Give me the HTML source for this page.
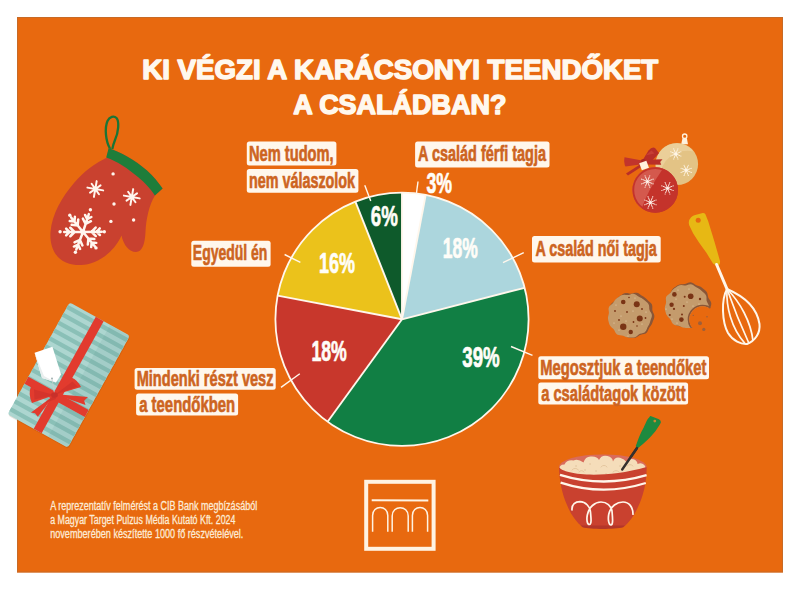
<!DOCTYPE html>
<html lang="hu"><head><meta charset="utf-8"><title>Ki végzi a karácsonyi teendőket a családban?</title>
<style>
html,body{margin:0;padding:0;background:#fff;}
body{width:800px;height:590px;overflow:hidden;}
svg{display:block;}
.tt{font-family:"Liberation Sans",Arial,sans-serif;font-weight:700;fill:#FFF8EE;stroke:#FFF8EE;}
.lb{font-family:"Liberation Sans",Arial,sans-serif;font-weight:700;fill:#CD6421;stroke:#CD6421;}
.pc{font-family:"Liberation Sans",Arial,sans-serif;font-weight:700;fill:#FFFDF8;stroke:#FFFDF8;}
.ft{font-family:"Liberation Sans",Arial,sans-serif;fill:#FDEBD6;stroke:#FDEBD6;}
</style></head>
<body>
<svg width="800" height="590" viewBox="0 0 800 590">
<rect x="0" y="0" width="800" height="590" fill="#FFFFFF"/>
<rect x="17" y="17" width="766" height="555.5" fill="#E8690F"/>
<rect x="17.5" y="17.5" width="765" height="554.5" fill="none" stroke="#BF6A2C" stroke-width="1" opacity="0.8"/>
<text x="142.25" y="79.25" font-size="27.6" textLength="516.0" lengthAdjust="spacingAndGlyphs" class="tt" stroke-width="1.5" stroke-linejoin="round">KI VÉGZI A KARÁCSONYI TEENDŐKET</text>
<text x="293.2" y="113.5" font-size="27.6" textLength="213.2" lengthAdjust="spacingAndGlyphs" class="tt" stroke-width="1.5" stroke-linejoin="round">A CSALÁDBAN?</text>
<g id="mitten">
<path d="M110.2,149 C105.5,141 104.5,128 107.5,121 C109.5,116.5 114,115.5 116.5,118 C119.5,121.5 118.5,132 115,140 C113.8,143 112.8,146 112.3,149" fill="none" stroke="#1B7536" stroke-width="2.3"/>
<path d="M107,157.5 C96,163 84,171 74,183 C62,197 52,214 50.5,232 C49.5,246 55,258 66,262.5 C71,264.5 76,265.2 81,265 C96,264.5 113,254 121.5,235.5 C123.5,245 129,252 136,252 C142.5,252 145,243 145.5,232 C146,220 149,205 155,195.5 L162.6,188.6 C158.5,182.5 153,176 147,170.5 C135,160 120,151.5 108.6,148.2 L107,157.5 Z" fill="#C9412F"/>
<path d="M108.6,148.2 C120,151.5 135,160 147,170.5 C153,176 158.5,182.5 162.6,188.6 L154.9,195.6 C150,188 145,183 138,177 C128,168.5 117,161 106.2,157.4 Z" fill="#1E7D3A"/>
<path d="M83.00,232.00L101.80,231.67M91.46,231.85l4.18,-4.33M91.46,231.85l4.33,4.18M96.53,231.76l3.26,-3.38M96.53,231.76l3.38,3.26M83.00,232.00L94.98,246.49M88.39,238.52l5.99,0.57M88.39,238.52l-0.57,5.99M91.63,242.43l4.68,0.44M91.63,242.43l-0.44,4.68M83.00,232.00L76.29,249.56M79.98,239.90l2.46,5.49M79.98,239.90l-5.49,2.46M78.17,244.65l1.92,4.29M78.17,244.65l-4.29,1.92M83.00,232.00L64.20,232.00M74.54,232.00l-4.25,4.25M74.54,232.00l-4.25,-4.25M69.46,232.00l-3.32,3.32M69.46,232.00l-3.32,-3.32M83.00,232.00L71.12,217.43M77.65,225.44l-5.99,-0.61M77.65,225.44l0.61,-5.99M74.44,221.51l-4.68,-0.47M74.44,221.51l0.47,-4.68M83.00,232.00L88.81,214.12M85.61,223.95l-2.73,-5.36M85.61,223.95l5.36,-2.73M87.18,219.13l-2.13,-4.19M87.18,219.13l4.19,-2.13" stroke="#FFF6EE" stroke-width="2.5" stroke-linecap="round" fill="none"/>
<circle cx="83" cy="232" r="2.6" fill="#FFF6EE"/>
<path d="M95.30,189.00L103.18,190.39M95.30,189.00L98.97,194.24M95.30,189.00L93.91,196.88M95.30,189.00L90.06,192.67M95.30,189.00L87.42,187.61M95.30,189.00L91.63,183.76M95.30,189.00L96.69,181.12M95.30,189.00L100.54,185.33" stroke="#FFF6EE" stroke-width="2.0" stroke-linecap="round" fill="none"/><circle cx="95.3" cy="189" r="2.20" fill="#FFF6EE"/>
<path d="M131.80,197.00L139.68,198.39M131.80,197.00L135.47,202.24M131.80,197.00L130.41,204.88M131.80,197.00L126.56,200.67M131.80,197.00L123.92,195.61M131.80,197.00L128.13,191.76M131.80,197.00L133.19,189.12M131.80,197.00L137.04,193.33" stroke="#FFF6EE" stroke-width="2.0" stroke-linecap="round" fill="none"/><circle cx="131.8" cy="197" r="2.20" fill="#FFF6EE"/>
<circle cx="113.1" cy="173.9" r="1.7" fill="#FFF6EE"/>
<circle cx="114" cy="204" r="1.7" fill="#FFF6EE"/>
<circle cx="110.9" cy="221.4" r="1.7" fill="#FFF6EE"/>
<circle cx="133.6" cy="220" r="1.7" fill="#FFF6EE"/>
<circle cx="90.4" cy="209.7" r="1.7" fill="#FFF6EE"/>
<circle cx="69.8" cy="215.3" r="1.7" fill="#FFF6EE"/>
<circle cx="60.1" cy="231.7" r="1.7" fill="#FFF6EE"/>
<circle cx="104.3" cy="231.7" r="1.7" fill="#FFF6EE"/>
<circle cx="75.4" cy="252.2" r="1.7" fill="#FFF6EE"/>
<circle cx="96" cy="247.9" r="1.7" fill="#FFF6EE"/>
</g>
<g id="gift">
<g transform="translate(68.7,375) rotate(29)">
<defs><clipPath id="gc"><rect x="-34.5" y="-64" width="69" height="128" rx="3"/></clipPath></defs>
<rect x="-33.5" y="-63" width="69" height="128" rx="3" fill="#7a3a0a" opacity="0.15"/>
<rect x="-34.5" y="-64" width="69" height="128" rx="3" fill="#ADD6D0"/>
<g clip-path="url(#gc)"><rect x="-35" y="-61.0" width="70" height="4.3" fill="#8AC0B7"/><rect x="-35" y="-52.0" width="70" height="4.3" fill="#8AC0B7"/><rect x="-35" y="-43.0" width="70" height="4.3" fill="#8AC0B7"/><rect x="-35" y="-34.0" width="70" height="4.3" fill="#8AC0B7"/><rect x="-35" y="-25.0" width="70" height="4.3" fill="#8AC0B7"/><rect x="-35" y="-16.0" width="70" height="4.3" fill="#8AC0B7"/><rect x="-35" y="-7.0" width="70" height="4.3" fill="#8AC0B7"/><rect x="-35" y="2.0" width="70" height="4.3" fill="#8AC0B7"/><rect x="-35" y="11.0" width="70" height="4.3" fill="#8AC0B7"/><rect x="-35" y="20.0" width="70" height="4.3" fill="#8AC0B7"/><rect x="-35" y="29.0" width="70" height="4.3" fill="#8AC0B7"/><rect x="-35" y="38.0" width="70" height="4.3" fill="#8AC0B7"/><rect x="-35" y="47.0" width="70" height="4.3" fill="#8AC0B7"/><rect x="-35" y="56.0" width="70" height="4.3" fill="#8AC0B7"/><rect x="12" y="-63.5" width="22" height="127" fill="#2a6a60" opacity="0.07"/></g>
<rect x="-4.5" y="-64" width="9" height="128" fill="#E23B2E"/>
<rect x="-34.5" y="21" width="69" height="8" fill="#E23B2E"/>
</g>
<path d="M34.6,352.8 L52.4,346.7 L61.1,374.6 L56,382.5 L42,378 Z" fill="#FFFFFF"/><path d="M34.6,352.8 L42,378 L56,382.5 L44,376 Z" fill="#E9EEEE"/>
<circle cx="52" cy="378.5" r="0.9" fill="#9aa"/>
<path d="M52,379 C53,385 54,390 54.5,394" stroke="#C9D0CE" stroke-width="0.7" fill="none"/>
<path d="M54.5,395 L31,386.5 Q27.8,394 32,403 Z" fill="#E23B2E"/>
<path d="M54.5,395 L34,389.5 L34.5,399.5 Z" fill="#C9302A" opacity="0.55"/>
<path d="M54.5,395 L71.5,377.5 Q77.5,380 81,387 Z" fill="#E23B2E"/>
<path d="M54.5,395 L72.5,381.5 L77.5,386.5 Z" fill="#C9302A" opacity="0.55"/>
<path d="M54.5,394 L88,397 L84.2,400.8 L85.5,405 Z" fill="#E23B2E"/>
<path d="M54.5,395 L31,412.5 L35,413.2 L37.8,416.8 Z" fill="#E23B2E"/>
<path d="M54.5,395 L45,403 L56,399 Z" fill="#C9302A" opacity="0.6"/>
<ellipse cx="54.5" cy="395" rx="3.4" ry="2.8" fill="#C9302A"/>
</g>
<g id="ornaments">
<circle cx="684.7" cy="136.2" r="2.2" fill="none" stroke="#FFF1DC" stroke-width="1.3"/>
<path d="M682.5,138.3 L686.9,138.3 L688,144.2 L681.2,144.2 Z" fill="#FFF1DC"/>
<circle cx="677" cy="164" r="21.1" fill="#E3C385"/>
<path d="M660.5,151 A21.1,21.1 0 0 1 693.5,151.5 A27,27 0 0 0 660,178 A21.1,21.1 0 0 1 660.5,151 Z" fill="#EDD3A0" opacity="0.75"/>
<path d="M676.91,154.36L679.87,155.58M676.26,155.01L677.48,157.97M675.34,155.01L674.12,157.97M674.69,154.36L671.73,155.58M674.69,153.44L671.73,152.22M675.34,152.79L674.12,149.83M676.26,152.79L677.48,149.83M676.91,153.44L679.87,152.22" stroke="#FFF6E8" stroke-width="0.9" stroke-linecap="round" fill="none"/><circle cx="680.88" cy="156.00" r="0.55" fill="#FFF6E8"/><circle cx="677.90" cy="158.98" r="0.55" fill="#FFF6E8"/><circle cx="673.70" cy="158.98" r="0.55" fill="#FFF6E8"/><circle cx="670.72" cy="156.00" r="0.55" fill="#FFF6E8"/><circle cx="670.72" cy="151.80" r="0.55" fill="#FFF6E8"/><circle cx="673.70" cy="148.82" r="0.55" fill="#FFF6E8"/><circle cx="677.90" cy="148.82" r="0.55" fill="#FFF6E8"/><circle cx="680.88" cy="151.80" r="0.55" fill="#FFF6E8"/><circle cx="675.8" cy="153.9" r="1.5" fill="#FFF6E8"/>
<path d="M687.31,170.76L690.27,171.98M686.66,171.41L687.88,174.37M685.74,171.41L684.52,174.37M685.09,170.76L682.13,171.98M685.09,169.84L682.13,168.62M685.74,169.19L684.52,166.23M686.66,169.19L687.88,166.23M687.31,169.84L690.27,168.62" stroke="#FFF6E8" stroke-width="0.9" stroke-linecap="round" fill="none"/><circle cx="691.28" cy="172.40" r="0.55" fill="#FFF6E8"/><circle cx="688.30" cy="175.38" r="0.55" fill="#FFF6E8"/><circle cx="684.10" cy="175.38" r="0.55" fill="#FFF6E8"/><circle cx="681.12" cy="172.40" r="0.55" fill="#FFF6E8"/><circle cx="681.12" cy="168.20" r="0.55" fill="#FFF6E8"/><circle cx="684.10" cy="165.22" r="0.55" fill="#FFF6E8"/><circle cx="688.30" cy="165.22" r="0.55" fill="#FFF6E8"/><circle cx="691.28" cy="168.20" r="0.55" fill="#FFF6E8"/><circle cx="686.2" cy="170.3" r="1.5" fill="#FFF6E8"/>
<circle cx="655.25" cy="190" r="22.75" fill="#C4332B"/>
<path d="M663,168.6 Q647.2,191.5 641.8,208.3 A22.75,22.75 0 0 1 663,168.6 Z" fill="#D4594D"/><circle cx="655.25" cy="190" r="21.9" fill="none" stroke="#C4332B" stroke-width="1.7"/>
<path d="M648.51,181.96L651.98,183.40M647.86,182.61L649.30,186.08M646.94,182.61L645.50,186.08M646.29,181.96L642.82,183.40M646.29,181.04L642.82,179.60M646.94,180.39L645.50,176.92M647.86,180.39L649.30,176.92M648.51,181.04L651.98,179.60" stroke="#FFF3EA" stroke-width="0.9" stroke-linecap="round" fill="none"/><circle cx="653.13" cy="183.87" r="0.55" fill="#FFF3EA"/><circle cx="649.77" cy="187.23" r="0.55" fill="#FFF3EA"/><circle cx="645.03" cy="187.23" r="0.55" fill="#FFF3EA"/><circle cx="641.67" cy="183.87" r="0.55" fill="#FFF3EA"/><circle cx="641.67" cy="179.13" r="0.55" fill="#FFF3EA"/><circle cx="645.03" cy="175.77" r="0.55" fill="#FFF3EA"/><circle cx="649.77" cy="175.77" r="0.55" fill="#FFF3EA"/><circle cx="653.13" cy="179.13" r="0.55" fill="#FFF3EA"/><circle cx="647.4" cy="181.5" r="1.5" fill="#FFF3EA"/>
<path d="M668.61,188.66L672.08,190.10M667.96,189.31L669.40,192.78M667.04,189.31L665.60,192.78M666.39,188.66L662.92,190.10M666.39,187.74L662.92,186.30M667.04,187.09L665.60,183.62M667.96,187.09L669.40,183.62M668.61,187.74L672.08,186.30" stroke="#FFF3EA" stroke-width="0.9" stroke-linecap="round" fill="none"/><circle cx="673.23" cy="190.57" r="0.55" fill="#FFF3EA"/><circle cx="669.87" cy="193.93" r="0.55" fill="#FFF3EA"/><circle cx="665.13" cy="193.93" r="0.55" fill="#FFF3EA"/><circle cx="661.77" cy="190.57" r="0.55" fill="#FFF3EA"/><circle cx="661.77" cy="185.83" r="0.55" fill="#FFF3EA"/><circle cx="665.13" cy="182.47" r="0.55" fill="#FFF3EA"/><circle cx="669.87" cy="182.47" r="0.55" fill="#FFF3EA"/><circle cx="673.23" cy="185.83" r="0.55" fill="#FFF3EA"/><circle cx="667.5" cy="188.2" r="1.5" fill="#FFF3EA"/>
<path d="M651.51,202.86L654.98,204.30M650.86,203.51L652.30,206.98M649.94,203.51L648.50,206.98M649.29,202.86L645.82,204.30M649.29,201.94L645.82,200.50M649.94,201.29L648.50,197.82M650.86,201.29L652.30,197.82M651.51,201.94L654.98,200.50" stroke="#FFF3EA" stroke-width="0.9" stroke-linecap="round" fill="none"/><circle cx="656.13" cy="204.77" r="0.55" fill="#FFF3EA"/><circle cx="652.77" cy="208.13" r="0.55" fill="#FFF3EA"/><circle cx="648.03" cy="208.13" r="0.55" fill="#FFF3EA"/><circle cx="644.67" cy="204.77" r="0.55" fill="#FFF3EA"/><circle cx="644.67" cy="200.03" r="0.55" fill="#FFF3EA"/><circle cx="648.03" cy="196.67" r="0.55" fill="#FFF3EA"/><circle cx="652.77" cy="196.67" r="0.55" fill="#FFF3EA"/><circle cx="656.13" cy="200.03" r="0.55" fill="#FFF3EA"/><circle cx="650.4" cy="202.4" r="1.5" fill="#FFF3EA"/>
<path d="M641.5,162 L648.5,150.5 Q652,146.5 655,148 L659,153 Q656,157 651,161.5 Z" fill="#B92E28"/>
<path d="M645.5,155.5 L651.5,150.5 L654.5,153.5 Z" fill="#D0493E" opacity="0.6"/>
<path d="M645,159.8 L662.5,159.3 L660.2,162 L661.2,164.8 L645,164.4 Z" fill="#B92E28"/>
<path d="M643.5,160.8 L624.5,157.3 Q623.5,163 625.5,166.5 L643.5,164 Z" fill="#C1342C"/>
<path d="M641.5,163.5 L626,173.4 L628,175.6 L643.5,165.5 Z" fill="#B92E28"/>
<circle cx="643.2" cy="161.2" r="2.3" fill="#A82823"/>
<rect x="640.3" y="161.7" width="7.6" height="7.6" fill="#FFF1DC" transform="rotate(-20 644.1 165.5)"/>
</g>
<g id="whisk">
<path d="M691.1,217.2 Q693,215.5 695.2,215.1 L702.8,213.1 Q704.5,213 705.4,214.3 L708.2,221.2 L714.4,241.6 L720,260.9 Q720.6,264.8 717,266.3 L713,263.5 L706.4,252.8 L699,242.6 L693.2,233.4 L689.2,225.3 Q687.8,220.5 691.1,217.2 Z" fill="#E7B814"/>
<circle cx="698.2" cy="220.2" r="2.5" fill="#E8690F"/>
<path d="M716.6,264.5 L727.2,289.5" stroke="#FFF6EA" stroke-width="3" stroke-linecap="round"/>
<path d="M727,289 C721,300 722,322 728,333 C733,341 741,344.5 747,344 C755,341 760.5,333 759.5,324 C757.5,311 748,298 727,289 Z" fill="none" stroke="#FFF6EA" stroke-width="2"/>
<path d="M727,289 C726,306 731,328 745,343.5" fill="none" stroke="#FFF6EA" stroke-width="1.7"/>
<path d="M727,289 C733,306 741,326 749,343.5" fill="none" stroke="#FFF6EA" stroke-width="1.7"/>
<path d="M727,289 C740,302 751,322 753,341" fill="none" stroke="#FFF6EA" stroke-width="1.7"/>
</g>
<g id="cookies">
<path d="M654.29,315.20 L654.36,316.81 L654.00,318.38 L653.43,319.88 L652.88,321.36 L652.36,322.83 L651.74,324.26 L650.93,325.59 L650.02,326.83 L649.16,328.10 L648.45,329.51 L647.78,331.02 L646.91,332.42 L645.67,333.46 L644.10,334.03 L642.43,334.31 L640.88,334.64 L639.51,335.28 L638.22,336.18 L636.85,337.07 L635.36,337.66 L633.78,337.87 L632.19,337.84 L630.61,337.75 L629.04,337.63 L627.49,337.35 L626.01,336.81 L624.62,336.07 L623.26,335.36 L621.80,334.88 L620.20,334.60 L618.54,334.26 L617.07,333.54 L615.97,332.34 L615.22,330.82 L614.61,329.29 L613.85,327.95 L612.85,326.79 L611.77,325.64 L610.83,324.36 L610.15,322.93 L609.68,321.43 L609.27,319.90 L608.89,318.36 L608.69,316.79 L608.83,315.20 L609.32,313.66 L609.89,312.18 L610.25,310.70 L610.26,309.14 L610.14,307.46 L610.26,305.79 L610.89,304.30 L612.02,303.09 L613.36,302.09 L614.60,301.10 L615.65,299.99 L616.63,298.79 L617.69,297.65 L618.90,296.66 L620.21,295.81 L621.53,294.97 L622.88,294.10 L624.30,293.36 L625.86,292.98 L627.50,293.06 L629.11,293.40 L630.65,293.66 L632.16,293.55 L633.72,293.12 L635.36,292.73 L637.00,292.73 L638.52,293.29 L639.88,294.21 L641.15,295.20 L642.44,296.08 L643.77,296.87 L645.05,297.72 L646.23,298.73 L647.32,299.82 L648.44,300.90 L649.67,301.93 L650.88,303.03 L651.83,304.34 L652.30,305.90 L652.34,307.58 L652.27,309.21 L652.46,310.72 L653.02,312.16 L653.76,313.64 Z" fill="#8A5637"/>
<path d="M651.91,315.80 L651.61,317.34 L651.07,318.82 L650.55,320.25 L650.13,321.69 L649.70,323.12 L649.11,324.49 L648.38,325.79 L647.65,327.08 L647.02,328.45 L646.43,329.92 L645.66,331.31 L644.53,332.39 L643.07,333.04 L641.47,333.40 L639.99,333.80 L638.73,334.51 L637.57,335.52 L636.34,336.55 L634.95,337.27 L633.44,337.57 L631.89,337.56 L630.36,337.46 L628.85,337.39 L627.35,337.25 L625.88,336.91 L624.47,336.37 L623.10,335.82 L621.66,335.44 L620.11,335.25 L618.51,335.02 L617.04,334.42 L615.91,333.33 L615.11,331.89 L614.45,330.43 L613.65,329.18 L612.59,328.15 L611.40,327.17 L610.32,326.05 L609.54,324.73 L609.03,323.29 L608.63,321.81 L608.26,320.34 L607.98,318.84 L607.98,317.31 L608.27,315.80 L608.67,314.34 L608.90,312.89 L608.82,311.38 L608.59,309.77 L608.58,308.15 L609.09,306.67 L610.13,305.45 L611.41,304.43 L612.59,303.44 L613.53,302.31 L614.32,301.05 L615.19,299.79 L616.24,298.70 L617.45,297.79 L618.72,296.95 L620.00,296.11 L621.34,295.36 L622.81,294.89 L624.37,294.81 L625.93,295.00 L627.43,295.12 L628.87,294.91 L630.35,294.38 L631.91,293.85 L633.49,293.72 L634.99,294.17 L636.34,295.04 L637.60,296.00 L638.87,296.80 L640.20,297.43 L641.55,298.08 L642.82,298.88 L643.97,299.84 L645.11,300.82 L646.30,301.79 L647.48,302.81 L648.46,304.01 L649.03,305.47 L649.20,307.07 L649.25,308.65 L649.52,310.09 L650.18,311.42 L651.05,312.79 L651.72,314.25 Z" fill="#C49B6C"/>
<circle cx="623.25" cy="302" r="2.3" fill="#7A3415"/>
<circle cx="636.75" cy="304.25" r="3" fill="#7A3415"/>
<circle cx="639.75" cy="318.5" r="3" fill="#7A3415"/>
<circle cx="623.25" cy="326.75" r="3.2" fill="#7A3415"/>
<circle cx="630.75" cy="332" r="2.2" fill="#7A3415"/>
<circle cx="615" cy="311" r="0.9" fill="#7A3415"/>
<circle cx="627" cy="312" r="0.9" fill="#7A3415"/>
<circle cx="642" cy="309" r="0.9" fill="#7A3415"/>
<circle cx="633.5" cy="322" r="0.9" fill="#7A3415"/>
<circle cx="619" cy="320" r="0.9" fill="#7A3415"/>
<circle cx="645.5" cy="318" r="0.9" fill="#7A3415"/>
<circle cx="629" cy="297.5" r="0.8" fill="#7A3415"/>
<circle cx="637" cy="326" r="0.8" fill="#7A3415"/>
<circle cx="616" cy="305" r="0.6" fill="#EAD6B2"/>
<circle cx="621" cy="316" r="0.6" fill="#EAD6B2"/>
<circle cx="633" cy="311" r="0.6" fill="#EAD6B2"/>
<circle cx="642" cy="324" r="0.6" fill="#EAD6B2"/>
<circle cx="626" cy="321" r="0.6" fill="#EAD6B2"/>
<circle cx="614" cy="323" r="0.6" fill="#EAD6B2"/>
<circle cx="635" cy="298" r="0.6" fill="#EAD6B2"/>
<circle cx="646" cy="312" r="0.6" fill="#EAD6B2"/>
<circle cx="628" cy="336" r="0.6" fill="#EAD6B2"/>
<circle cx="619" cy="330" r="0.6" fill="#EAD6B2"/>
<defs><mask id="bite"><rect x="600" y="270" width="130" height="80" fill="#fff"/><circle cx="702.5" cy="319.5" r="13.2" fill="#000"/></mask></defs>
<g mask="url(#bite)"><path d="M711.05,305.40 L710.52,306.96 L710.04,308.47 L709.73,309.98 L709.47,311.50 L709.07,313.00 L708.49,314.44 L707.84,315.84 L707.23,317.29 L706.64,318.80 L705.87,320.22 L704.74,321.38 L703.29,322.15 L701.70,322.68 L700.25,323.26 L699.02,324.14 L697.91,325.32 L696.72,326.50 L695.33,327.34 L693.76,327.70 L692.13,327.71 L690.54,327.63 L688.98,327.62 L687.42,327.61 L685.88,327.47 L684.37,327.13 L682.88,326.74 L681.36,326.45 L679.75,326.31 L678.11,326.08 L676.60,325.50 L675.37,324.42 L674.45,323.00 L673.65,321.56 L672.69,320.37 L671.47,319.44 L670.11,318.54 L668.88,317.48 L667.98,316.15 L667.41,314.66 L666.99,313.12 L666.59,311.60 L666.24,310.07 L666.07,308.51 L666.15,306.94 L666.35,305.40 L666.42,303.88 L666.24,302.31 L665.94,300.67 L665.90,299.00 L666.39,297.46 L667.41,296.14 L668.67,295.02 L669.80,293.90 L670.64,292.64 L671.30,291.22 L672.04,289.80 L673.03,288.55 L674.24,287.53 L675.55,286.64 L676.88,285.79 L678.25,285.00 L679.72,284.42 L681.30,284.17 L682.90,284.15 L684.44,284.08 L685.92,283.71 L687.42,283.06 L689.00,282.44 L690.63,282.26 L692.21,282.68 L693.65,283.54 L695.00,284.47 L696.37,285.18 L697.82,285.68 L699.30,286.17 L700.73,286.83 L702.03,287.70 L703.25,288.68 L704.48,289.68 L705.69,290.72 L706.73,291.94 L707.42,293.39 L707.76,295.00 L708.01,296.58 L708.47,298.02 L709.29,299.35 L710.29,300.70 L711.07,302.19 L711.32,303.78 Z" fill="#8A5637"/><path d="M708.85,306.20 L708.73,307.75 L708.26,309.24 L707.70,310.68 L707.21,312.11 L706.74,313.53 L706.15,314.90 L705.38,316.19 L704.56,317.43 L703.84,318.73 L703.24,320.16 L702.57,321.62 L701.60,322.86 L700.25,323.67 L698.66,324.08 L697.09,324.37 L695.70,324.86 L694.47,325.68 L693.25,326.68 L691.91,327.51 L690.44,327.96 L688.90,328.05 L687.36,327.97 L685.84,327.88 L684.34,327.75 L682.86,327.44 L681.44,326.88 L680.09,326.22 L678.73,325.69 L677.24,325.39 L675.64,325.19 L674.08,324.76 L672.79,323.87 L671.89,322.54 L671.24,321.03 L670.58,319.65 L669.69,318.49 L668.59,317.45 L667.50,316.36 L666.63,315.09 L666.05,313.68 L665.62,312.22 L665.23,310.74 L664.91,309.25 L664.81,307.72 L665.05,306.20 L665.53,304.73 L665.95,303.30 L666.07,301.84 L665.91,300.27 L665.79,298.63 L666.08,297.06 L666.92,295.73 L668.14,294.67 L669.42,293.72 L670.50,292.69 L671.40,291.52 L672.29,290.30 L673.31,289.19 L674.49,288.25 L675.76,287.42 L677.03,286.58 L678.35,285.77 L679.77,285.17 L681.31,284.96 L682.89,285.14 L684.42,285.42 L685.88,285.45 L687.34,285.10 L688.87,284.57 L690.47,284.27 L692.02,284.48 L693.42,285.21 L694.69,286.18 L695.92,287.08 L697.21,287.83 L698.52,288.52 L699.78,289.33 L700.92,290.29 L702.02,291.31 L703.17,292.30 L704.38,293.29 L705.48,294.41 L706.22,295.77 L706.50,297.34 L706.49,298.96 L706.55,300.48 L706.97,301.87 L707.72,303.23 L708.47,304.67 Z" fill="#C49B6C"/>
<clipPath id="ck2"><path d="M711.05,305.40 L710.52,306.96 L710.04,308.47 L709.73,309.98 L709.47,311.50 L709.07,313.00 L708.49,314.44 L707.84,315.84 L707.23,317.29 L706.64,318.80 L705.87,320.22 L704.74,321.38 L703.29,322.15 L701.70,322.68 L700.25,323.26 L699.02,324.14 L697.91,325.32 L696.72,326.50 L695.33,327.34 L693.76,327.70 L692.13,327.71 L690.54,327.63 L688.98,327.62 L687.42,327.61 L685.88,327.47 L684.37,327.13 L682.88,326.74 L681.36,326.45 L679.75,326.31 L678.11,326.08 L676.60,325.50 L675.37,324.42 L674.45,323.00 L673.65,321.56 L672.69,320.37 L671.47,319.44 L670.11,318.54 L668.88,317.48 L667.98,316.15 L667.41,314.66 L666.99,313.12 L666.59,311.60 L666.24,310.07 L666.07,308.51 L666.15,306.94 L666.35,305.40 L666.42,303.88 L666.24,302.31 L665.94,300.67 L665.90,299.00 L666.39,297.46 L667.41,296.14 L668.67,295.02 L669.80,293.90 L670.64,292.64 L671.30,291.22 L672.04,289.80 L673.03,288.55 L674.24,287.53 L675.55,286.64 L676.88,285.79 L678.25,285.00 L679.72,284.42 L681.30,284.17 L682.90,284.15 L684.44,284.08 L685.92,283.71 L687.42,283.06 L689.00,282.44 L690.63,282.26 L692.21,282.68 L693.65,283.54 L695.00,284.47 L696.37,285.18 L697.82,285.68 L699.30,286.17 L700.73,286.83 L702.03,287.70 L703.25,288.68 L704.48,289.68 L705.69,290.72 L706.73,291.94 L707.42,293.39 L707.76,295.00 L708.01,296.58 L708.47,298.02 L709.29,299.35 L710.29,300.70 L711.07,302.19 L711.32,303.78 Z"/></clipPath><circle cx="702.5" cy="319.5" r="14" fill="none" stroke="#8A5637" stroke-width="1.6" clip-path="url(#ck2)"/>
<circle cx="674.4" cy="294.4" r="2.3" fill="#7A3415"/>
<circle cx="690.7" cy="296.3" r="2.8" fill="#7A3415"/>
<circle cx="671.6" cy="304.7" r="2.2" fill="#7A3415"/>
<circle cx="681.4" cy="319.6" r="2.3" fill="#7A3415"/>
<circle cx="684.7" cy="296.8" r="1" fill="#7A3415"/>
<circle cx="700" cy="299" r="1.2" fill="#7A3415"/>
<circle cx="674" cy="308.9" r="1.1" fill="#7A3415"/>
<circle cx="669.8" cy="315" r="1.1" fill="#7A3415"/>
<circle cx="683.8" cy="306.1" r="1" fill="#7A3415"/>
<circle cx="682" cy="314.5" r="1" fill="#7A3415"/>
<circle cx="678" cy="290" r="0.6" fill="#EAD6B2"/>
<circle cx="687" cy="302" r="0.6" fill="#EAD6B2"/>
<circle cx="693" cy="306" r="0.6" fill="#EAD6B2"/>
<circle cx="676" cy="299" r="0.6" fill="#EAD6B2"/>
<circle cx="666" cy="309" r="0.6" fill="#EAD6B2"/>
<circle cx="677" cy="323" r="0.6" fill="#EAD6B2"/>
<circle cx="689" cy="289" r="0.6" fill="#EAD6B2"/>
<circle cx="699" cy="304" r="0.6" fill="#EAD6B2"/>
<circle cx="672" cy="319" r="0.6" fill="#EAD6B2"/>
</g>
<circle cx="700" cy="323.3" r="2.0" fill="#9E5F3A"/>
<circle cx="703.8" cy="329.4" r="1.6" fill="#9E5F3A"/>
<circle cx="707" cy="316.8" r="0.8" fill="#9E5F3A"/>
<circle cx="693.3" cy="315.4" r="0.7" fill="#9E5F3A"/>
</g>
<g id="bowl">
<path d="M622.2,469.5 L637,448" stroke="#35302E" stroke-width="2.3" stroke-linecap="round"/>
<path d="M649.5,416.9 Q650,416 650.6,416.1 L659,419.2 Q661.2,420.5 660.9,422.6 C659,426 657.5,428.5 655.2,431.4 C652.5,434.5 650,437.5 647.6,439.8 C644.5,442.8 641.5,445.5 638.4,447.8 L636.9,448.2 L635.7,445.9 C637,443 638,439.5 639.2,436.7 C640.5,433.5 642,430.5 643.7,427.6 C645,424.5 646.3,421.5 647.6,419.2 Z" fill="#1E8A3F"/>
<circle cx="654.8" cy="421.1" r="1.4" fill="#C98A35"/>
<ellipse cx="602.8" cy="467" rx="43.8" ry="12.6" fill="#D96B5B"/>
<path d="M559.5,470 Q558.5,464.5 564.5,464.5 Q567,459.5 573.5,460.5 Q578,458.5 583.5,462.5 Q585.5,455.5 592,456.5 Q597.5,456.5 599,460 Q601.5,454.5 607.5,456 Q612.5,457 613,461.5 Q615,456.5 620,457.8 Q624.5,459 626.5,462 Q629,458 633.5,459.3 Q637.5,460.8 637.5,464 Q641.5,462 644,464.8 Q646.5,467.5 645,470 Q632,478 572,478.5 559.5,470 Z" fill="#F5DDBA"/>
<path d="M572,470 q3,-3.5 6.5,0 M579,472 q2.5,-3 5,0 M601,467 q3,-3.5 6,0 M613,472 q3,-3 6,0 M627,466 q3,-3 6,0" stroke="#E2C49C" stroke-width="0.9" stroke-linecap="round" fill="none"/>
<path d="M576,466 l0.1,0 M590,464 l0.1,0 M596,471 l0.1,0 M620,466 l0.1,0 M606,474 l0.1,0 M585,470 l0.1,0" stroke="#DDBE96" stroke-width="1.3" stroke-linecap="round"/>
<path d="M622.2,469.5 L637,448" stroke="#35302E" stroke-width="2.4" stroke-linecap="round"/>
<path d="M558.9,467 C563,474 600,480 646.6,467 C647,482 643,497 638,507 C634,516 629,523 623,527.3 L582.8,527.3 C576,522 570.6,514 567,505 C562,494 559.5,481 558.9,467 Z" fill="#C9412F"/>
<path d="M580.5,525.5 L625,525.5 L623,527.3 C615,529.5 590,529.5 582.8,527.3 Z" fill="#B3362A"/>
<path d="M560,474.8 Q603,488 646.6,475.2" stroke="#FFF6EA" stroke-width="2.3" fill="none"/>
<path d="M560.6,482.6 Q603,496.5 645.8,483" stroke="#FFF6EA" stroke-width="2.3" fill="none"/>
<path d="M572,510 C571.5,504 575.5,501.6 580,501.6 C586,501.8 590,507 590.5,512 C591,518 591.8,524.3 589.5,524.5 C587.2,524.7 586.4,520 587.3,515 C588.8,507 595,502 601,502 C607,502 611,506 612,511 C612.5,517 613.4,524.8 611,525 C608.6,525.2 607.8,519 608.8,514 C610.8,506 617,502 623,502 C629,502 633,507 633,514.2" stroke="#FFF6EA" stroke-width="1.7" fill="none" stroke-linecap="round"/>
</g>
<g id="pie">
<path d="M402.00,319.30 L402.00,192.70 A126.6,126.6 0 0 1 425.72,194.94 Z" fill="#FFFFFF"/>
<path d="M402.00,319.30 L425.72,194.94 A126.6,126.6 0 0 1 524.62,287.82 Z" fill="#ACD6DD"/>
<path d="M402.00,319.30 L524.62,287.82 A126.6,126.6 0 0 1 327.59,421.72 Z" fill="#117F44"/>
<path d="M402.00,319.30 L327.59,421.72 A126.6,126.6 0 0 1 277.64,295.58 Z" fill="#C8372C"/>
<path d="M402.00,319.30 L277.64,295.58 A126.6,126.6 0 0 1 355.40,201.59 Z" fill="#EBC21B"/>
<path d="M402.00,319.30 L355.40,201.59 A126.6,126.6 0 0 1 402.00,192.70 Z" fill="#0E5A2B"/>
<line x1="402.0" y1="319.3" x2="402.00" y2="192.70" stroke="#FFF7EC" stroke-width="1.9"/>
<line x1="402.0" y1="319.3" x2="425.72" y2="194.94" stroke="#FFF7EC" stroke-width="1.9"/>
<line x1="402.0" y1="319.3" x2="524.62" y2="287.82" stroke="#FFF7EC" stroke-width="1.9"/>
<line x1="402.0" y1="319.3" x2="327.59" y2="421.72" stroke="#FFF7EC" stroke-width="1.9"/>
<line x1="402.0" y1="319.3" x2="277.64" y2="295.58" stroke="#FFF7EC" stroke-width="1.9"/>
<line x1="402.0" y1="319.3" x2="355.40" y2="201.59" stroke="#FFF7EC" stroke-width="1.9"/>
<circle cx="402.0" cy="319.3" r="126.6" fill="none" stroke="#FFF7EC" stroke-width="1.8"/>
<line x1="364.75" y1="185.25" x2="370.75" y2="201" stroke="#FFF7EC" stroke-width="1.4"/>
<line x1="418" y1="181.5" x2="416.5" y2="193" stroke="#FFF7EC" stroke-width="1.4"/>
<line x1="503" y1="262.7" x2="523.75" y2="252.6" stroke="#FFF7EC" stroke-width="1.4"/>
<line x1="511" y1="346.5" x2="532.5" y2="355.3" stroke="#FFF7EC" stroke-width="1.4"/>
<line x1="281" y1="387.4" x2="299.8" y2="373.7" stroke="#FFF7EC" stroke-width="1.4"/>
<line x1="284.6" y1="254.5" x2="300.4" y2="262.4" stroke="#FFF7EC" stroke-width="1.4"/>
<text x="370.75" y="225.5" font-size="29.0" textLength="27.0" lengthAdjust="spacingAndGlyphs" class="pc" stroke-width="0.7" stroke-linejoin="round">6%</text>
<text x="442.75" y="257.5" font-size="29.0" textLength="35.0" lengthAdjust="spacingAndGlyphs" class="pc" stroke-width="0.7" stroke-linejoin="round">18%</text>
<text x="319.0" y="272.5" font-size="29.0" textLength="36.0" lengthAdjust="spacingAndGlyphs" class="pc" stroke-width="0.7" stroke-linejoin="round">16%</text>
<text x="311.4" y="361.0" font-size="29.0" textLength="35.4" lengthAdjust="spacingAndGlyphs" class="pc" stroke-width="0.7" stroke-linejoin="round">18%</text>
<text x="462.3" y="367.1" font-size="29.0" textLength="37.4" lengthAdjust="spacingAndGlyphs" class="pc" stroke-width="0.7" stroke-linejoin="round">39%</text>
<text x="426.5" y="192.8" font-size="29.0" textLength="25.6" lengthAdjust="spacingAndGlyphs" class="pc" stroke-width="0.7" stroke-linejoin="round">3%</text>
</g>
<g id="labels">
<rect x="246.8" y="141.6" width="89.6" height="24.0" rx="2.5" fill="#FFF7EC"/>
<rect x="246.8" y="168.9" width="111.6" height="23.9" rx="2.5" fill="#FFF7EC"/>
<rect x="415.1" y="141.5" width="134.4" height="26.1" rx="2.5" fill="#FFF7EC"/>
<rect x="532" y="235.9" width="128.7" height="26.7" rx="2.5" fill="#FFF7EC"/>
<rect x="538.3" y="356.3" width="170.7" height="22.9" rx="2.5" fill="#FFF7EC"/>
<rect x="538.3" y="382.5" width="149.8" height="21.9" rx="2.5" fill="#FFF7EC"/>
<rect x="134.6" y="368.1" width="141.1" height="21.6" rx="2.5" fill="#FFF7EC"/>
<rect x="136.1" y="393.5" width="102.0" height="21.9" rx="2.5" fill="#FFF7EC"/>
<rect x="191.3" y="240.8" width="79.3" height="25.9" rx="2.5" fill="#FFF7EC"/>
<text x="248.9" y="160.6" font-size="21.8" textLength="84.8" lengthAdjust="spacingAndGlyphs" class="lb" stroke-width="0.65" stroke-linejoin="round">Nem tudom,</text>
<text x="248.9" y="187.6" font-size="21.8" textLength="106.2" lengthAdjust="spacingAndGlyphs" class="lb" stroke-width="0.65" stroke-linejoin="round">nem válaszolok</text>
<text x="418.0" y="160.6" font-size="21.8" textLength="128.0" lengthAdjust="spacingAndGlyphs" class="lb" stroke-width="0.65" stroke-linejoin="round">A család férfi tagja</text>
<text x="535.4" y="255.75" font-size="21.8" textLength="121.4" lengthAdjust="spacingAndGlyphs" class="lb" stroke-width="0.65" stroke-linejoin="round">A család női tagja</text>
<text x="540.2" y="375.3" font-size="21.8" textLength="166.2" lengthAdjust="spacingAndGlyphs" class="lb" stroke-width="0.65" stroke-linejoin="round">Megosztjuk a teendőket</text>
<text x="541.2" y="400.9" font-size="21.8" textLength="144.4" lengthAdjust="spacingAndGlyphs" class="lb" stroke-width="0.65" stroke-linejoin="round">a családtagok között</text>
<text x="136.7" y="386.4" font-size="21.8" textLength="136.8" lengthAdjust="spacingAndGlyphs" class="lb" stroke-width="0.65" stroke-linejoin="round">Mindenki részt vesz</text>
<text x="139.2" y="412.3" font-size="21.8" textLength="96.0" lengthAdjust="spacingAndGlyphs" class="lb" stroke-width="0.65" stroke-linejoin="round">a teendőkben</text>
<text x="192.8" y="259.8" font-size="21.8" textLength="74.6" lengthAdjust="spacingAndGlyphs" class="lb" stroke-width="0.65" stroke-linejoin="round">Egyedül én</text>
</g>
<g id="logo">
<rect x="366.2" y="481.8" width="67.4" height="67" fill="none" stroke="#FFF3E2" stroke-width="4"/>
<path d="M371.7,500.3 L428.3,500.6" stroke="#FFF3E2" stroke-width="2"/>
<path d="M372.6,531.7 V515.5 C372.6,504.9 387.8,504.9 387.8,515.5 V531.7" stroke="#FFF3E2" stroke-width="1.5" fill="none"/>
<path d="M392.2,531.7 V515.9 C392.2,504.9 408.2,504.9 408.2,515.9 V531.7" stroke="#FFF3E2" stroke-width="1.5" fill="none"/>
<path d="M412.4,531.7 V515.5 C412.4,504.9 427.6,504.9 427.6,515.5 V531.7" stroke="#FFF3E2" stroke-width="1.5" fill="none"/>
</g>
<text x="50.2" y="510.1" font-size="12.0" textLength="207.0" lengthAdjust="spacingAndGlyphs" class="ft" stroke-width="0.3" stroke-linejoin="round">A reprezentatív felmérést a CIB Bank megbízásából</text>
<text x="50.2" y="524.2" font-size="12.0" textLength="185.2" lengthAdjust="spacingAndGlyphs" class="ft" stroke-width="0.3" stroke-linejoin="round">a Magyar Target Pulzus Média Kutató Kft. 2024</text>
<text x="50.2" y="538.4" font-size="12.0" textLength="193.2" lengthAdjust="spacingAndGlyphs" class="ft" stroke-width="0.3" stroke-linejoin="round">novemberében készítette 1000 fő részvételével.</text>
</svg>
</body></html>
